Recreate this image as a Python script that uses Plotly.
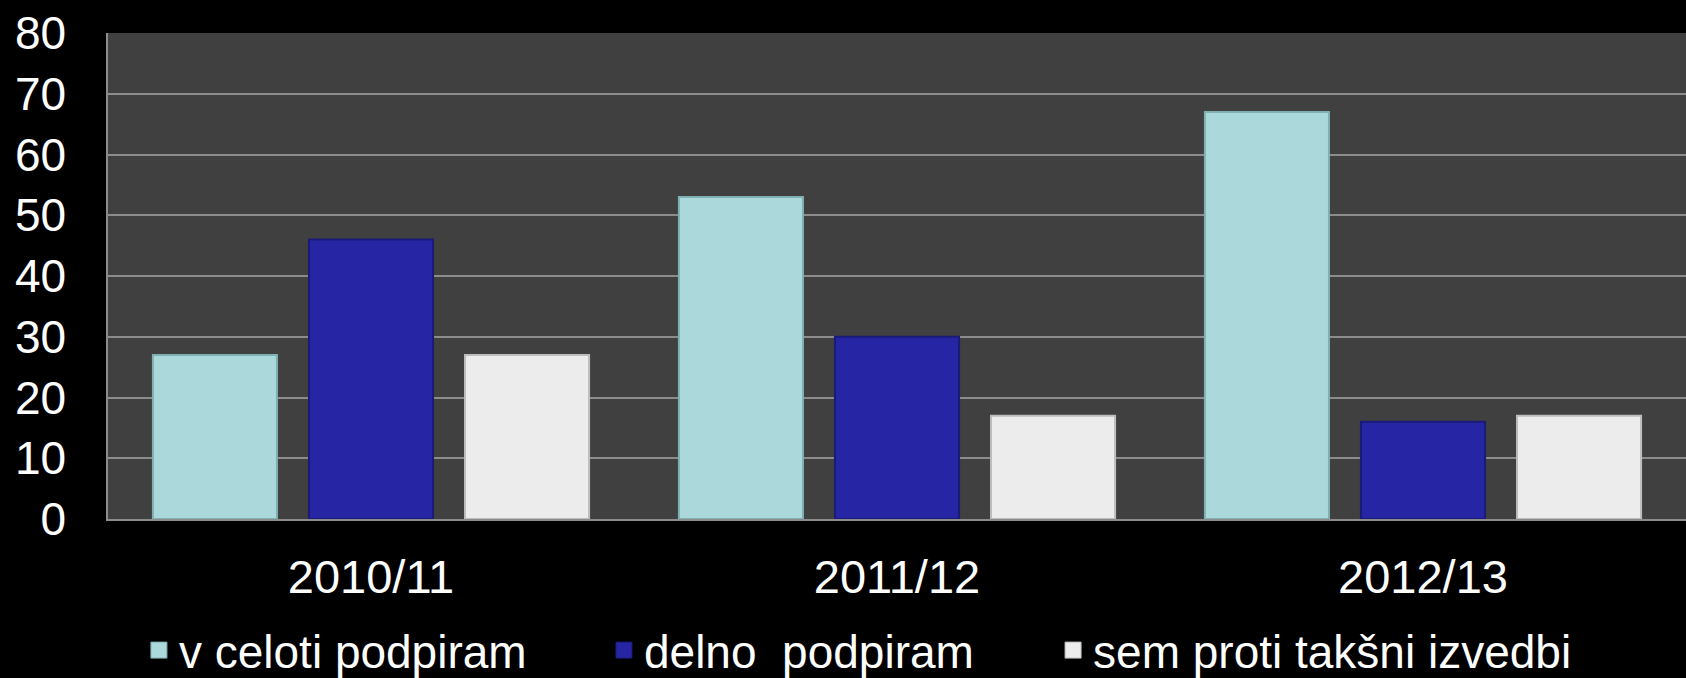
import plotly.graph_objects as go

categories = ["2010/11", "2011/12", "2012/13"]
series_names = ["v celoti podpiram", "delno  podpiram", "sem proti takšni izvedbi"]
v_celoti = [27, 53, 67]
delno = [46, 30, 16]
sem_proti = [27, 17, 17]
y_ticks = [0, 10, 20, 30, 40, 50, 60, 70, 80]

series_values = [v_celoti, delno, sem_proti]
fills = ["#ABD8DA", "#2626A4", "#ECECEC"]
edges = ["#7FB0B2", "#1A1A78", "#BDBDBD"]
legend_ids = ["legend", "legend2", "legend3"]
legend_x = [0.0196, 0.3143, 0.5989]

FONT = "Liberation Sans, Arial, sans-serif"

fig = go.Figure()
for name, vals, fc, ec in zip(series_names, series_values, fills, edges):
    fig.add_trace(go.Bar(
        x=categories, y=vals, name=name, showlegend=False,
        marker=dict(color=fc, line=dict(color=ec, width=2)),
    ))
for name, fc, ec, lid in zip(series_names, fills, edges, legend_ids):
    fig.add_trace(go.Scatter(
        x=[None], y=[None], mode="markers", name=name, legend=lid, showlegend=True,
        marker=dict(symbol="square", size=16, color=fc, line=dict(color=ec, width=1)),
    ))

legend_common = dict(
    orientation="h", xanchor="left", y=-0.270, yanchor="middle",
    font=dict(family=FONT, size=46, color="#FFFFFF"),
    bgcolor="rgba(0,0,0,0)", itemsizing="trace",
)

fig.update_layout(
    width=1686, height=678,
    paper_bgcolor="#000000", plot_bgcolor="#404040",
    margin=dict(l=108, r=0, t=33, b=159, autoexpand=False),
    barmode="group", bargap=0.11, bargroupgap=0.205,
    font=dict(family=FONT, color="#FFFFFF", size=46),
    showlegend=True,
    legend=dict(x=legend_x[0], **legend_common),
    legend2=dict(x=legend_x[1], **legend_common),
    legend3=dict(x=legend_x[2], **legend_common),
    xaxis=dict(
        showgrid=False, showline=True, linecolor="#8C8C8C", linewidth=2,
        tickfont=dict(size=47, color="#FFFFFF"), ticks="", ticklabelstandoff=16,
    ),
    yaxis=dict(
        range=[0, 80], tickvals=y_ticks, showgrid=True, gridcolor="#8C8C8C", gridwidth=1.5,
        showline=True, linecolor="#8C8C8C", linewidth=1.5, zeroline=False,
        tickfont=dict(size=46, color="#FFFFFF"), ticks="", ticklabelstandoff=31,
    ),
)

fig.write_html(
    "out.html",
    config={"displayModeBar": False},
    post_script="document.body.style.margin='0';document.body.style.background='#000';",
)
